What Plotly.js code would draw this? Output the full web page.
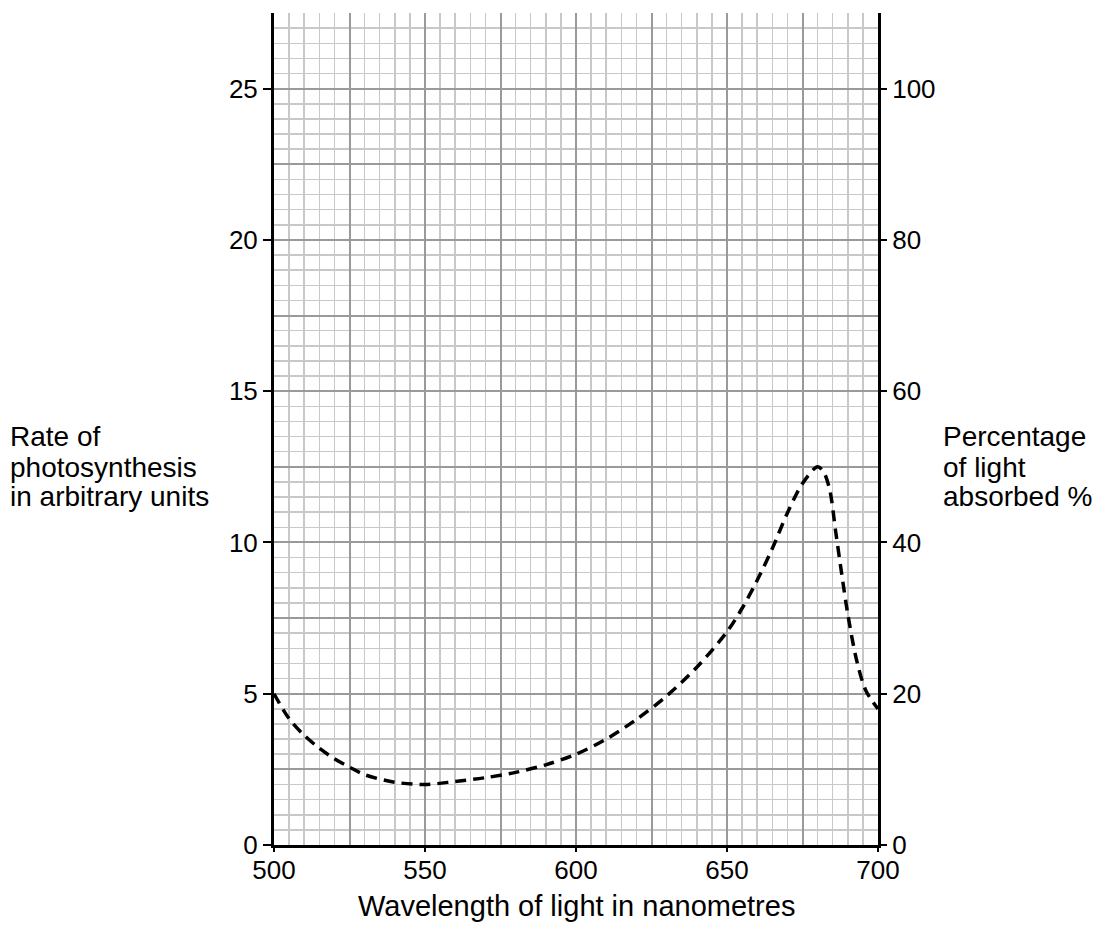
<!DOCTYPE html>
<html>
<head>
<meta charset="utf-8">
<script src="https://cdn.plot.ly/plotly-3.0.1.min.js"></script>
<style>body{margin:0;background:#fff;}#chart{width:1103px;height:925px;}</style>
</head>
<body>
<div id="chart"></div>
<script>
// Wavelength of light (nm)
const wavelength = [500,505,510,515,520,525,530,540,550,560,570,580,590,600,610,620,630,640,650,655,660,665,670,675,680,682,684,686,688,690,693,696,700];
// Percentage of light absorbed (%)
const absorbed = [20,16.7,14.5,12.8,11.4,10.3,9.3,8.3,8.0,8.4,8.9,9.6,10.6,12.0,14.0,16.6,19.7,23.5,28.2,31.3,35.0,39.2,43.9,47.8,50.0,49.3,47.0,41.4,35.8,30.5,24.3,20.4,18.0];

// Tick labels
const xTicks = [500,550,600,650,700];
const xGrid = [500,525,550,575,600,625,650,675,700];
const yLeftTicks = [0,5,10,15,20,25];
const yRightTicks = [0,20,40,60,80,100];
const yGrid = [0,10,20,30,40,50,60,70,80,90,100];
const leftTitleLines = ['Rate of','photosynthesis','in arbitrary units'];
const rightTitleLines = ['Percentage','of light','absorbed %'];
const xTitle = 'Wavelength of light in nanometres';

const dark = '#9a9a9a', light = '#c8c8c8';
function f(size){ return {family:'Liberation Sans, Arial, sans-serif', size:size, color:'#000'}; }

const traces = [
  {x:wavelength, y:absorbed, xaxis:'x', yaxis:'y', type:'scatter', mode:'lines',
   line:{color:'#000', width:3.5, dash:'11px,7px', shape:'spline', smoothing:0.9}, hoverinfo:'skip'},
  {x:[500,700], y:[0,0], xaxis:'x', yaxis:'y2', type:'scatter', mode:'none', hoverinfo:'skip'},
  {x:[500,700], y:[0,0], xaxis:'x', yaxis:'y3', type:'scatter', mode:'none', hoverinfo:'skip'},
  {x:[500,700], y:[0,0], xaxis:'x2', yaxis:'y', type:'scatter', mode:'none', hoverinfo:'skip'}
];

const annotations = [];
const rowY = [0.4904, 0.4543, 0.4183];
leftTitleLines.forEach((t,i)=>annotations.push({text:t, xref:'paper', yref:'paper', x:-0.44, y:rowY[i],
  xanchor:'left', yanchor:'middle', align:'left', showarrow:false, font:f(28)}));
rightTitleLines.forEach((t,i)=>annotations.push({text:t, xref:'paper', yref:'paper', x:1.1043, y:rowY[i],
  xanchor:'left', yanchor:'middle', align:'left', showarrow:false, font:f(28)}));
annotations.push({text:xTitle, xref:'paper', yref:'paper', x:0.5, y:-0.0733, xanchor:'center', yanchor:'middle',
  showarrow:false, font:f(29)});

const layout = {
  width:1103, height:925,
  margin:{l:274, r:225, t:13, b:80},
  paper_bgcolor:'#fff', plot_bgcolor:'#fff',
  showlegend:false,
  font:f(26),
  xaxis:{range:[500,700], tickvals:xGrid, showticklabels:false, ticks:'',
    showgrid:true, gridcolor:dark, gridwidth:2, zeroline:false,
    minor:{dtick:5, showgrid:true, gridcolor:light, gridwidth:1.5, ticks:''},
    showline:true, linecolor:'#000', linewidth:3},
  xaxis2:{range:[500,700], overlaying:'x', anchor:'y', side:'bottom', tickvals:xTicks, ticks:'outside', ticklen:6,
    tickwidth:2, tickcolor:'#000', ticklabelstandoff:-4, showgrid:false, zeroline:false, showline:false, tickfont:f(26)},
  yaxis:{range:[0,110], side:'right', tickvals:yGrid, showticklabels:false, ticks:'',
    showgrid:true, gridcolor:dark, gridwidth:2, zeroline:false,
    minor:{dtick:2, showgrid:true, gridcolor:light, gridwidth:1.5, ticks:''},
    showline:true, linecolor:'#000', linewidth:3},
  yaxis2:{range:[0,27.5], overlaying:'y', side:'left', anchor:'x', tickvals:yLeftTicks, ticks:'outside', ticklen:8,
    tickwidth:2, tickcolor:'#000', showgrid:false, zeroline:false, showline:true, linecolor:'#000', linewidth:3,
    tickfont:f(26)},
  yaxis3:{range:[0,110], overlaying:'y', side:'right', anchor:'x', tickvals:yRightTicks, ticks:'outside', ticklen:8,
    tickwidth:2, tickcolor:'#000', showgrid:false, zeroline:false, showline:false, tickfont:f(26)},
  annotations:annotations
};
Plotly.newPlot('chart', traces, layout, {staticPlot:true});
</script>
</body>
</html>
